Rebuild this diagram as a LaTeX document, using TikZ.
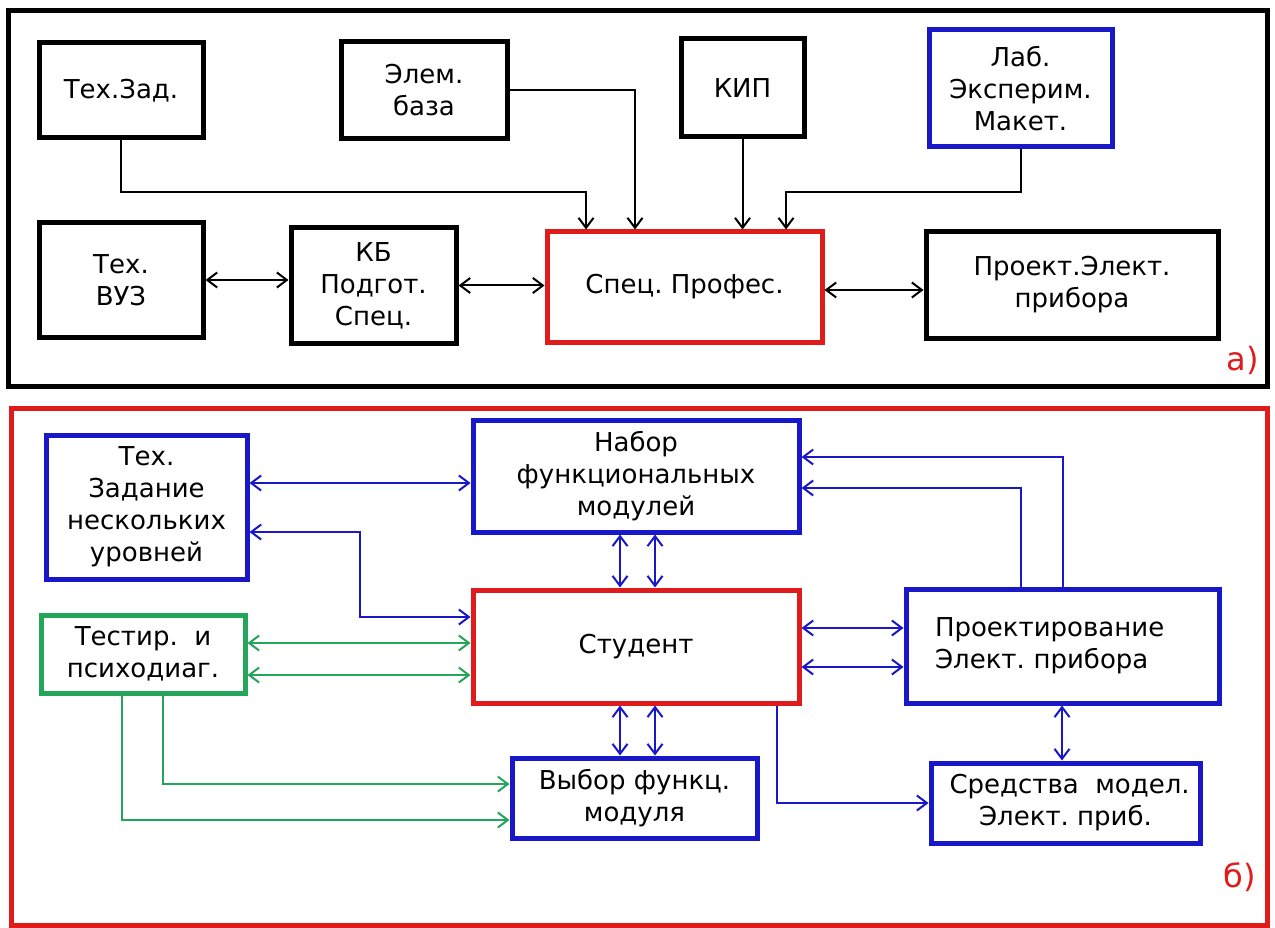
\documentclass[tikz,border=0pt]{standalone}
\usepackage{fontspec}
\setmainfont{DejaVu Sans}
\usetikzlibrary{arrows.meta}
\definecolor{cred}{HTML}{E01B1B}
\definecolor{cblue}{HTML}{1818C8}
\definecolor{cgreen}{HTML}{24A65A}
\begin{document}
\begin{tikzpicture}[x=1pt,y=-1pt,
  font=\fontsize{26}{32}\selectfont,
  >={Straight Barb[length=10pt,width=15pt]},
  box/.style={draw, line width=5pt, align=center, inner sep=0pt},
  bbox/.style={box, draw=cblue},
  rbox/.style={box, draw=cred},
  gbox/.style={box, draw=cgreen},
  conn/.style={line width=2pt},
  bconn/.style={line width=2pt, draw=cblue},
  gconn/.style={line width=2pt, draw=cgreen},
  frame/.style={line width=5pt},
  tag/.style={text=cred, font=\fontsize{32}{36}\selectfont}]
\useasboundingbox (0,0) rectangle (1275,928);
% ---------- part a) ----------
\draw[frame] (8,11) rectangle (1267,386);
\node[tag] (ta) at (1243,360) {a)};
\node[box, minimum width=164pt, minimum height=95pt] (tz) at (121,90.5) {Тех.Зад.};
\node[box, minimum width=166pt, minimum height=97pt] (eb) at (424,90.5) {Элем.\\база};
\node[box, minimum width=123pt, minimum height=98pt] (kip) at (742.5,88) {КИП};
\node[bbox, minimum width=183pt, minimum height=117pt] (lab) at (1020.5,88.5) {Лаб.\\Эксперим.\\Макет.};
\node[box, minimum width=164pt, minimum height=114pt] (vuz) at (121,280) {Тех.\\ВУЗ};
\node[box, minimum width=165pt, minimum height=115pt] (kb) at (373.5,285.5) {КБ\\Подгот.\\Спец.};
\node[rbox, minimum width=275pt, minimum height=110pt] (sp) at (684.5,287) {Спец.~Профес.};
\node[box, minimum width=292pt, minimum height=106pt] (pr) at (1072,285) {Проект.Элект.\\прибора};
\coordinate (a1) at (586,192);
\coordinate (a2) at (635,0);
\coordinate (a4) at (786,192);
\coordinate (a5) at (0,290);
\draw[conn,->] (tz.south) |- (a1) -- (a1 |- sp.north);
\draw[conn,->] (eb.east) -| (a2 |- sp.north);
\draw[conn,->] (kip.south) -- (kip.south |- sp.north);
\draw[conn,->] (lab.south) |- (a4) -- (a4 |- sp.north);
\draw[conn,<->] (vuz.east) -- (kb.west |- vuz.east);
\draw[conn,<->] (kb.east) -- (sp.west |- kb.east);
\draw[conn,<->] (sp.east |- a5) -- (pr.west |- a5);
% ---------- part b) ----------
\draw[frame, draw=cred] (11,408) rectangle (1267,925);
\node[tag] (tb) at (1240,877) {б)};
\node[bbox, minimum width=201pt, minimum height=144pt] (tzn) at (146.5,507) {Тех.\\Задание\\нескольких\\уровней};
\node[bbox, minimum width=326pt, minimum height=112pt] (nab) at (636,476) {Набор\\функциональных\\модулей};
\node[gbox, minimum width=204pt, minimum height=78pt] (test) at (143,654) {Тестир.~~и\\психодиаг.};
\node[rbox, minimum width=326pt, minimum height=113pt] (stud) at (636,646.5) {Студент};
\node[bbox, minimum height=114pt, text width=255pt, inner xsep=29pt, align=left] (proj) at (1062.5,646) {Проектирование\\Элект.~прибора};
\node[bbox, minimum width=245pt, minimum height=80pt] (vyb) at (634.5,798) {Выбор функц.\\модуля};
\node[bbox, minimum width=269pt, minimum height=80pt] (sred) at (1065.5,803) {~Средства~~модел.\\Элект.~приб.};
\coordinate (b1) at (0,483);
\coordinate (b2) at (0,532);
\coordinate (b3) at (360,617);
\coordinate (v1) at (620,0);
\coordinate (v2) at (655,0);
\coordinate (v3) at (1063,0);
\coordinate (v4) at (1021,0);
\coordinate (h1) at (0,457);
\coordinate (h2) at (0,488);
\coordinate (h3) at (0,628);
\coordinate (h4) at (0,667);
\coordinate (v5) at (1062,0);
\coordinate (v6) at (777,0);
\coordinate (h5) at (0,803);
\coordinate (h6) at (0,643);
\coordinate (h7) at (0,675);
\coordinate (v7) at (163,0);
\coordinate (h8) at (0,784);
\coordinate (v8) at (122,0);
\coordinate (h9) at (0,820);
\draw[bconn,<->] (tzn.east |- b1) -- (nab.west |- b1);
\draw[bconn,<->] (tzn.east |- b2) -| (b3) -- (stud.west |- b3);
\draw[bconn,<->] (nab.south -| v1) -- (stud.north -| v1);
\draw[bconn,<->] (nab.south -| v2) -- (stud.north -| v2);
\draw[bconn,<->] (stud.south -| v1) -- (vyb.north -| v1);
\draw[bconn,<->] (stud.south -| v2) -- (vyb.north -| v2);
\draw[bconn,->] (proj.north -| v3) |- (nab.east |- h1);
\draw[bconn,->] (proj.north -| v4) |- (nab.east |- h2);
\draw[bconn,<->] (stud.east |- h3) -- (proj.west |- h3);
\draw[bconn,<->] (stud.east |- h4) -- (proj.west |- h4);
\draw[bconn,<->] (proj.south -| v5) -- (sred.north -| v5);
\draw[bconn,->] (stud.south -| v6) |- (sred.west |- h5);
\draw[gconn,<->] (test.east |- h6) -- (stud.west |- h6);
\draw[gconn,<->] (test.east |- h7) -- (stud.west |- h7);
\draw[gconn,->] (test.south -| v7) |- (vyb.west |- h8);
\draw[gconn,->] (test.south -| v8) |- (vyb.west |- h9);
\end{tikzpicture}
\end{document}
